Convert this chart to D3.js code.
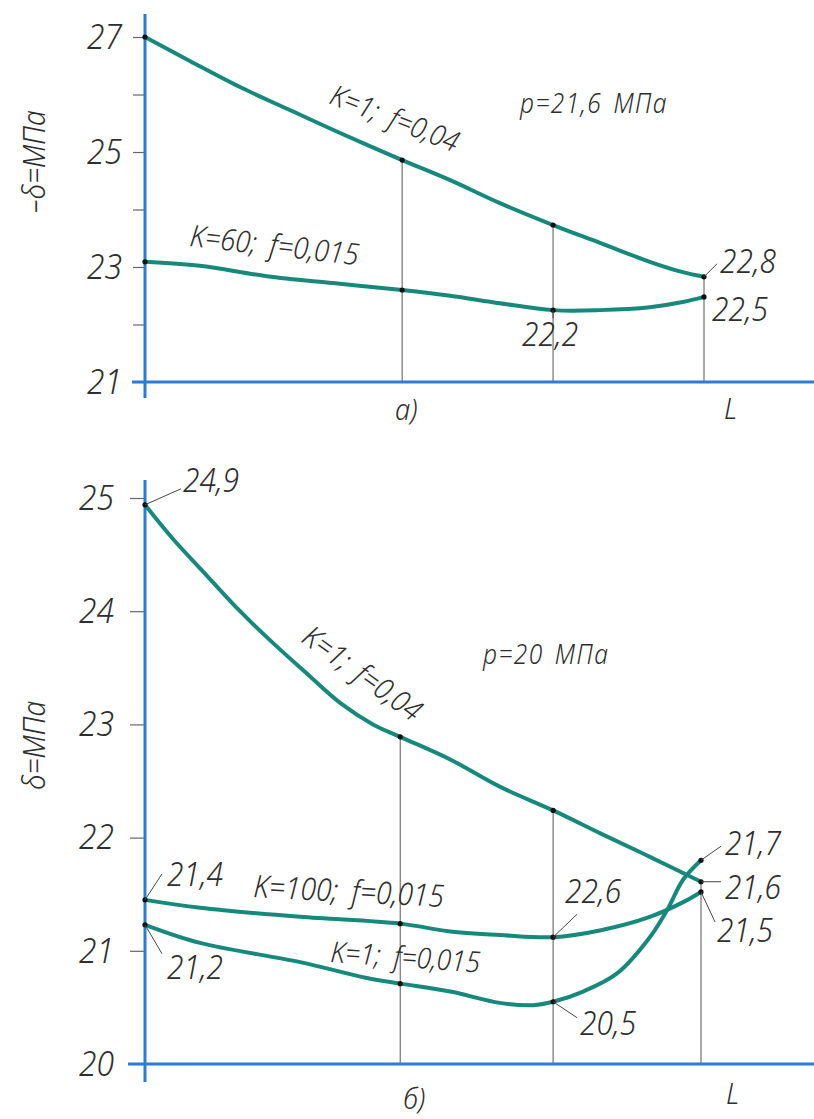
<!DOCTYPE html>
<html>
<head>
<meta charset="utf-8">
<script src="https://cdn.jsdelivr.net/npm/d3@7"></script>
<style>
  html, body { margin: 0; padding: 0; background: #fff; }
  svg text { font-family: "Noto Sans", "DejaVu Sans Condensed", "DejaVu Sans", sans-serif; font-style: italic; font-weight: 300; font-stretch: 75%; fill: #2e2e2e; }
</style>
</head>
<body>
<svg id="chart" width="814" height="1119"></svg>
<script>
// ---------- DATA (x as fraction of L) ----------
// Panel a) p = 21.6 MPa
const aTicks = [21, 22, 23, 24, 25, 26, 27];
const aTickLabels = ["21", "", "23", "", "25", "", "27"];
const aMarkX = [0.46, 0.73, 1];
const aK1f004X = [0, 0.081, 0.17, 0.259, 0.349, 0.46, 0.546, 0.635, 0.73, 0.814, 0.903, 0.962, 1];
const aK1f004Y = [27.0, 26.58, 26.13, 25.73, 25.33, 24.86, 24.51, 24.11, 23.73, 23.42, 23.09, 22.91, 22.83];
const aK60X = [0, 0.098, 0.218, 0.336, 0.46, 0.546, 0.635, 0.73, 0.814, 0.903, 0.962, 1];
const aK60Y = [23.09, 23.02, 22.84, 22.72, 22.6, 22.5, 22.37, 22.25, 22.25, 22.3, 22.39, 22.48];

// Panel б) p = 20 MPa
const bTicks = [20, 21, 22, 23, 24, 25];
const bTickLabels = ["20", "21", "22", "23", "24", "25"];
const bMarkX = [0.459, 0.734, 1];
const bK1f004X = [0, 0.05, 0.112, 0.171, 0.23, 0.291, 0.351, 0.41, 0.459, 0.549, 0.638, 0.734, 0.818, 0.908, 1];
const bK1f004Y = [24.94, 24.64, 24.31, 24.0, 23.72, 23.45, 23.19, 23.0, 22.89, 22.69, 22.45, 22.24, 22.04, 21.83, 21.61];
const bK100X = [0, 0.099, 0.279, 0.459, 0.549, 0.638, 0.734, 0.818, 0.908, 0.968, 1];
const bK100Y = [21.45, 21.38, 21.3, 21.24, 21.17, 21.14, 21.12, 21.18, 21.3, 21.43, 21.52];
const bK1f0015X = [0, 0.099, 0.279, 0.399, 0.459, 0.549, 0.638, 0.698, 0.734, 0.788, 0.849, 0.908, 0.939, 0.968, 1];
const bK1f0015Y = [21.23, 21.07, 20.9, 20.76, 20.71, 20.64, 20.54, 20.52, 20.55, 20.64, 20.8, 21.12, 21.36, 21.63, 21.8];

// ---------- STYLE ----------
const curveColor = "#16897b";
const axisColor = "#2b7cd6";
const thinColor = "#555";
const digitEm = 0.5; // target digit advance (narrow drafting font)

const svg = d3.select("#chart");
svg.append("rect").attr("width", 814).attr("height", 1119).attr("fill", "#fff");

const zip = (xs, ys) => xs.map((x, i) => ({ x, y: ys[i] }));

function valueAt(series, x) {
  const p = series.find(d => Math.abs(d.x - x) < 1e-6);
  return p ? p.y : null;
}

function panel(cfg) {
  const g = svg.append("g");
  const x = d3.scaleLinear().domain([0, 1]).range([cfg.x0, cfg.xL]);
  const y = d3.scaleLinear().domain(cfg.yDomain).range(cfg.yRange);

  // vertical reference lines (from upper curve down to axis)
  g.selectAll("line.mark").data(cfg.markX).join("line")
    .attr("x1", d => x(d)).attr("x2", d => x(d))
    .attr("y1", d => y(valueAt(cfg.series[0].data, d)))
    .attr("y2", y(cfg.yDomain[0]))
    .attr("stroke", thinColor).attr("stroke-width", 1);

  // y ticks
  const yAxis = d3.axisLeft(y).tickValues(cfg.ticks)
    .tickFormat((d, i) => cfg.tickLabels[i])
    .tickSize(cfg.tickSize).tickPadding(cfg.tickPad);
  const ya = g.append("g").attr("transform", `translate(${cfg.x0},0)`).call(yAxis);
  ya.select(".domain").remove();
  ya.attr("font-family", null).attr("font-size", null);
  ya.selectAll(".tick line").attr("stroke", "#666").attr("stroke-width", 1.2);
  ya.selectAll(".tick text").attr("font-size", 35).attr("fill", "#2e2e2e");

  // axes lines
  g.append("line").attr("x1", cfg.x0).attr("x2", cfg.x0)
    .attr("y1", y(cfg.yDomain[1]) - cfg.yExtTop).attr("y2", y(cfg.yDomain[0]) + cfg.yExtBot)
    .attr("stroke", axisColor).attr("stroke-width", 3);
  g.append("line").attr("x1", cfg.x0 - cfg.xExtLeft).attr("x2", 814)
    .attr("y1", y(cfg.yDomain[0])).attr("y2", y(cfg.yDomain[0]))
    .attr("stroke", axisColor).attr("stroke-width", 3);

  // x axis label "L"
  const xAxis = d3.axisBottom(x).tickValues([1]).tickSize(0).tickPadding(cfg.lPad).tickFormat(() => "L");
  const xa = g.append("g").attr("transform", `translate(${cfg.lShift},${y(cfg.yDomain[0])})`).call(xAxis);
  xa.select(".domain").remove();
  xa.attr("font-family", null).attr("font-size", null);
  xa.selectAll(".tick text").attr("font-size", 30).attr("fill", "#2e2e2e");

  // curves
  const line = d3.line().x(d => x(d.x)).y(d => y(d.y)).curve(d3.curveCatmullRom.alpha(0.5));
  cfg.series.forEach(s => {
    g.append("path").attr("d", line(s.data)).attr("fill", "none")
      .attr("stroke", curveColor).attr("stroke-width", 4).attr("stroke-linecap", "round");
  });

  // dots at start and reference verticals
  cfg.series.forEach(s => {
    const pts = s.data.filter(d => d.x === 0 || cfg.markX.some(m => Math.abs(m - d.x) < 1e-6));
    g.selectAll(null).data(pts).join("circle")
      .attr("cx", d => x(d.x)).attr("cy", d => y(d.y)).attr("r", 2.6).attr("fill", "#111");
  });

  // value annotations with leaders
  cfg.notes.forEach(n => {
    const s = cfg.series[n.s];
    const p = s.data[n.i];
    const px = x(p.x), py = y(p.y);
    if (n.lead) {
      g.append("line").attr("x1", px).attr("y1", py)
        .attr("x2", px + n.lead[0]).attr("y2", py + n.lead[1])
        .attr("stroke", "#444").attr("stroke-width", 1);
    }
    g.append("text").attr("x", px + n.dx).attr("y", py + n.dy)
      .attr("font-size", 33).text(n.text);
  });

  // curve labels
  cfg.labels.forEach(l => {
    g.append("text").attr("transform", `translate(${l.x},${l.y}) rotate(${l.rot})`)
      .attr("font-size", l.size).attr("letter-spacing", l.ls || 0)
      .attr("word-spacing", l.ws || 0).text(l.text);
  });
  return { x, y };
}

// ---------- PANEL a) ----------
const aSeries = [
  { name: "K=1; f=0,04", data: zip(aK1f004X, aK1f004Y) },
  { name: "K=60; f=0,015", data: zip(aK60X, aK60Y) }
];
panel({
  x0: 145, xL: 704, yDomain: [21, 27], yRange: [382, 37],
  ticks: aTicks, tickLabels: aTickLabels, tickSize: 12, tickPad: 11,
  yExtTop: 23, yExtBot: 16, xExtLeft: 13, lPad: 16, lShift: 26,
  markX: aMarkX, series: aSeries,
  notes: [
    { s: 0, i: aK1f004X.length - 1, text: "22,8", dx: 16, dy: -4, lead: [13, -13] },
    { s: 1, i: aK60X.length - 1, text: "22,5", dx: 8, dy: 24 },
    { s: 1, i: 7, text: "22,2", dx: -31, dy: 36, lead: [0, 8] }
  ],
  labels: [
    { text: "K=1; f=0,04", x: 328, y: 103, rot: 21.5, size: 29, ws: 7 },
    { text: "K=60; f=0,015", x: 189, y: 246, rot: 6.5, size: 30, ws: 7 },
    { text: "p=21,6 МПа", x: 520, y: 113, rot: 0, size: 27, ls: 1.5, ws: 4 },
    { text: "а)", x: 395, y: 420, rot: 0, size: 30 },
    { text: "–δ=МПа", x: 45, y: 213, rot: -90, size: 31 }
  ]
});

// ---------- PANEL б) ----------
const bSeries = [
  { name: "K=1; f=0,04", data: zip(bK1f004X, bK1f004Y) },
  { name: "K=100; f=0,015", data: zip(bK100X, bK100Y) },
  { name: "K=1; f=0,015", data: zip(bK1f0015X, bK1f0015Y) }
];
panel({
  x0: 145, xL: 701, yDomain: [20, 25], yRange: [1064, 498],
  ticks: bTicks, tickLabels: bTickLabels, tickSize: 15, tickPad: 16,
  yExtTop: 18, yExtBot: 18, xExtLeft: 17, lPad: 19, lShift: 31,
  markX: bMarkX, series: bSeries,
  notes: [
    { s: 0, i: 0, text: "24,9", dx: 38, dy: -13, lead: [36, -16] },
    { s: 1, i: 0, text: "21,4", dx: 22, dy: -14, lead: [17, -26] },
    { s: 2, i: 0, text: "21,2", dx: 22, dy: 54, lead: [17, 29] },
    { s: 1, i: 6, text: "22,6", dx: 12, dy: -34, lead: [24, -23] },
    { s: 2, i: 8, text: "20,5", dx: 27, dy: 33, lead: [24, 16] },
    { s: 2, i: bK1f0015X.length - 1, text: "21,7", dx: 24, dy: -5, lead: [20, -14] },
    { s: 0, i: bK1f004X.length - 1, text: "21,6", dx: 24, dy: 17, lead: [20, 0] },
    { s: 1, i: bK100X.length - 1, text: "21,5", dx: 16, dy: 50, lead: [14, 30] }
  ],
  labels: [
    { text: "K=1; f=0,04", x: 300, y: 641, rot: 36, size: 30, ws: 6 },
    { text: "K=100; f=0,015", x: 253, y: 897, rot: 3, size: 31, ws: 7 },
    { text: "K=1; f=0,015", x: 330, y: 962, rot: 4, size: 29, ws: 7 },
    { text: "p=20 МПа", x: 483, y: 664, rot: 0, size: 27, ls: 1.5, ws: 4 },
    { text: "б)", x: 403, y: 1109, rot: 0, size: 30 },
    { text: "δ=МПа", x: 45, y: 790, rot: -90, size: 31 }
  ]
});

// ---------- narrow the drafting-style lettering ----------
const probe = svg.append("text").attr("font-size", 100).text("0123456789");
const avgDigit = probe.node().getComputedTextLength() / 1000;
probe.remove();
const squeeze = Math.min(1, digitEm / avgDigit);
svg.selectAll("text").each(function () {
  const len = this.getComputedTextLength();
  if (len > 0) d3.select(this).attr("textLength", len * squeeze).attr("lengthAdjust", "spacingAndGlyphs");
});
</script>
</body>
</html>
